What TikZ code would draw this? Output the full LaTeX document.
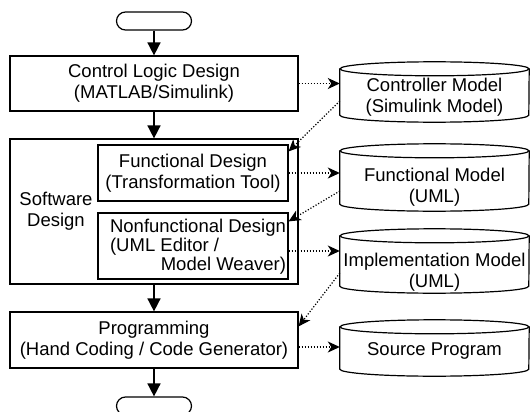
\documentclass[tikz,border=0pt]{standalone}
\usepackage{fontspec}
\setmainfont{Liberation Sans}
\usetikzlibrary{arrows.meta}
\begin{document}
\begin{tikzpicture}[x=1pt,y=1pt,
  every node/.style={font=\fontsize{18.5}{21}\selectfont, inner sep=0pt, align=center},
  stage/.style={draw, line width=1.2pt, minimum width=#1},
  terminal/.style={draw, line width=1.2pt, rounded corners=9pt, minimum width=75pt, minimum height=18pt},
  store/.style={minimum width=189pt},
  flow/.style={line width=1.6pt, -{Triangle[length=13pt,width=13pt]}},
  dep/.style={line width=1.2pt, dash pattern=on 1.2pt off 1.8pt, -{Stealth[length=12pt,width=11pt,inset=3.5pt]}},
  drum/.style={line width=1.2pt}]
\useasboundingbox (0,0) rectangle (530,-412);
\clip (0,0) rectangle (530,-412);

% process chain on the left
\node[terminal] (start) at (154,-21) {};
\node[stage=288pt, minimum height=55pt] (ctrl) at (154,-83.5) {Control Logic Design\\(MATLAB/Simulink)};
\node[stage=288pt, minimum height=145pt] (sw) at (154,-211.5) {};
\node (swt) at (56,-211) {Software\\Design};
\node[stage=190pt, minimum height=56pt] (fd) at (193,-173) {Functional Design\\(Transformation Tool)};
\node[stage=190pt, minimum height=66pt] (nfd) at (193,-246) {};
\node (nfdt) at (198,-247.5) {\begin{tabular}{@{}l@{}}Nonfunctional Design\\[-2pt](UML Editor /\\[-2pt]\multicolumn{1}{@{}r@{}}{Model Weaver)}\end{tabular}};
\node[stage=288pt, minimum height=56pt] (prog) at (154,-340) {Programming\\(Hand Coding / Code Generator)};
\node[terminal] (stop) at (154,-406) {};

\draw[flow] (start.south) -- (ctrl.north);
\draw[flow] (ctrl.south) -- (sw.north);
\draw[flow] (sw.south) -- (prog.north);
\draw[flow] (prog.south) -- (stop.north);

% model repositories on the right (body between the two ellipse centres)
\node[store, minimum height=46pt] (c1) at (434.5,-92) {};
\node[store, minimum height=53pt] (c2) at (434.5,-177.5) {};
\node[store, minimum height=50pt] (c3) at (434.5,-261) {};
\node[store, minimum height=42pt] (c4) at (434.5,-348) {};
\foreach \c in {c1,c2,c3,c4}{
  \draw[drum] (\c.north west) -- (\c.south west)
    arc[start angle=180, end angle=360, x radius=94.5pt, y radius=7pt]
    -- (\c.north east);
  \draw[drum] (\c.north) ellipse[x radius=94.5pt, y radius=7pt];
}
\node (c1t) at (434.5,-97.5) {Controller Model\\(Simulink Model)};
\node (c2t) at (434.5,-187.5) {Functional Model\\(UML)};
\node (c3t) at (434.5,-272) {Implementation Model\\(UML)};
\node (c4t) at (434.5,-351) {Source Program};

% model exchange
\draw[dep] (ctrl.east) -- (ctrl.east -| c1.west);
\draw[dep] ([yshift=-9pt]c1.west) -- ([yshift=-7pt]fd.north east);
\draw[dep] (fd.east) -- (fd.east -| c2.west);
\draw[dep] ([yshift=-13.5pt]c2.west) -- ([yshift=-9pt]nfd.north east);
\draw[dep] ([yshift=-5pt]nfd.east) -- ([yshift=-5pt]nfd.east -| c3.west);
\draw[dep] ([yshift=-12pt]c3.west) -- ([yshift=-15pt]prog.north east);
\draw[dep] ([yshift=-7pt]prog.east) -- ([yshift=-7pt]prog.east -| c4.west);
\end{tikzpicture}
\end{document}
